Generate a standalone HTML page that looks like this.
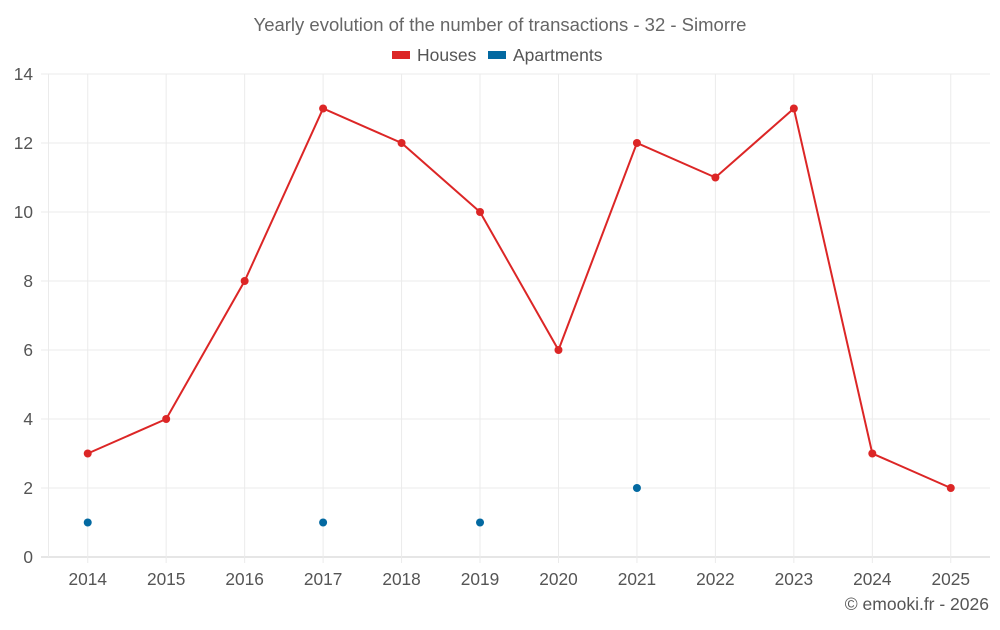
<!DOCTYPE html>
<html><head><meta charset="utf-8"><style>
body{margin:0;background:#fff;font-family:"Liberation Sans",sans-serif;}
svg text{font-family:"Liberation Sans",sans-serif;}
</style></head><body>
<svg width="1000" height="625">
<text x="500" y="31" text-anchor="middle" font-size="18.5" fill="#666">Yearly evolution of the number of transactions - 32 - Simorre</text>
<g>
<rect x="392" y="51" width="18" height="8" fill="#dc2626"/>
<text x="417" y="61" font-size="17.5" fill="#555">Houses</text>
<rect x="488" y="51" width="18" height="8" fill="#0369a1"/>
<text x="513" y="61" font-size="17.5" fill="#555">Apartments</text>
</g>
<g id="grid"></g><g id="axes"></g><g id="marks"></g>
<text x="989" y="610" text-anchor="end" font-size="17.5" fill="#555">© emooki.fr - 2026</text>
</svg>
<script>
const categories=["2014","2015","2016","2017","2018","2019","2020","2021","2022","2023","2024","2025"];
const houses=[3,4,8,13,12,10,6,12,11,13,3,2];
const apartments=[1,null,null,1,null,1,null,2,null,null,null,null];
const yTicks=[0,2,4,6,8,10,12,14];
const L=48.5,R=990,T=74,B=557,yMax=14;
const bw=(R-L)/categories.length;
const x=i=>L+bw*(i+0.5);
const y=v=>B-(B-T)*v/yMax;
const NS="http://www.w3.org/2000/svg";
function mk(p,t,a){const e=document.createElementNS(NS,t);for(const k in a)e.setAttribute(k,a[k]);p.appendChild(e);return e;}
const g=document.getElementById('grid'),ax=document.getElementById('axes'),m=document.getElementById('marks');
yTicks.forEach(v=>{
 const l=mk(g,'line',{x1:41,x2:R,y1:y(v),y2:y(v),stroke:v===0?'#ccc':'#ebebeb'});
 
 
 const t=mk(ax,'text',{x:33,y:y(v)+6,'text-anchor':'end','font-size':17.3,fill:'#555'});
 t.textContent=v;
 
 
});
const vl=mk(g,'line',{x1:L,x2:L,y1:T,y2:B,stroke:'#ebebeb'});


categories.forEach((c,i)=>{
 const l=mk(g,'line',{x1:x(i),x2:x(i),y1:T,y2:B+6,stroke:'#ebebeb'});
 
 
 const t=mk(ax,'text',{x:x(i),y:585,'text-anchor':'middle','font-size':17.3,fill:'#555'});
 t.textContent=c;
 
 
});
const pl=mk(m,'polyline',{points:houses.map((v,i)=>x(i)+','+y(v)).join(' '),fill:'none',stroke:'#dc2626','stroke-width':2});


houses.forEach((v,i)=>{
 const c=mk(m,'circle',{cx:x(i),cy:y(v),r:4,fill:'#dc2626'});
 
 
});
apartments.forEach((v,i)=>{
 if(v==null)return;
 const c=mk(m,'circle',{cx:x(i),cy:y(v),r:4,fill:'#0369a1'});
 
 
});
</script>
</body></html>
